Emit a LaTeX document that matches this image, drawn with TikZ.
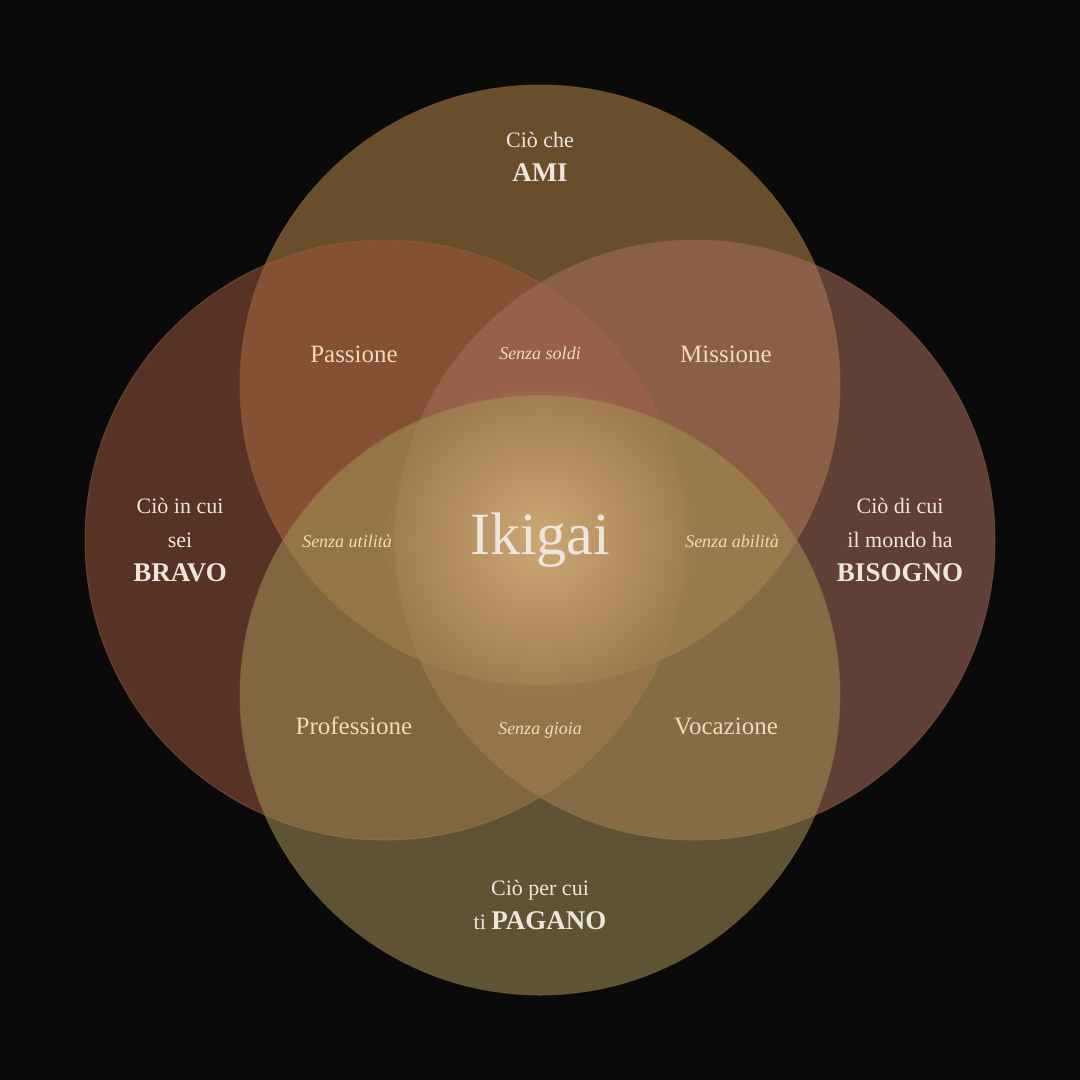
\documentclass[tikz,border=0pt]{standalone}
\usepackage{fontspec}
\setmainfont{Liberation Serif}
\usetikzlibrary{fadings}
\tikzfading[name=glowfade, inner color=transparent!0, outer color=transparent!100]
\definecolor{bg}{RGB}{10,10,10}
\definecolor{ctop}{RGB}{184,135,73}
\definecolor{cleft}{RGB}{155,84,62}
\definecolor{cright}{RGB}{167,109,91}
\definecolor{cbot}{RGB}{164,145,85}
\definecolor{glow}{RGB}{215,175,125}
\definecolor{edge}{RGB}{140,100,65}
\definecolor{lab}{RGB}{240,218,185}
\definecolor{outer}{RGB}{238,230,220}
\begin{document}
\begin{tikzpicture}[x=1pt,y=-1pt,
  circ/.style={fill opacity=0.55,draw=edge,draw opacity=0.5,line width=1pt},
  reg/.style={text=lab,font=\fontsize{25}{28}\selectfont},
  sub/.style={text=lab,font=\itshape\fontsize{18}{20}\selectfont},
  outlab/.style={text=outer,align=center,font=\fontsize{22}{34}\selectfont}]
\fill[bg] (0,0) rectangle (1080,1080);
\useasboundingbox (0,0) rectangle (1080,1080);
\filldraw[circ,fill=ctop] (540,385) circle (300);
\filldraw[circ,fill=cleft] (385,540) circle (300);
\filldraw[circ,fill=cright] (695,540) circle (300);
\filldraw[circ,fill=cbot] (540,695) circle (300);
\fill[glow,path fading=glowfade,opacity=0.85] (540,540) circle (160);
\node[outlab] (ami) at (540,157) {Ciò che\\\textbf{\fontsize{27}{34}\selectfont AMI}};
\node[outlab] (bravo) at (180,540) {Ciò in cui\\sei\\\textbf{\fontsize{27}{34}\selectfont BRAVO}};
\node[outlab] (bisogno) at (900,540) {Ciò di cui\\il mondo ha\\\textbf{\fontsize{27}{34}\selectfont BISOGNO}};
\node[outlab] (pagano) at (540,905) {Ciò per cui\\ti \textbf{\fontsize{27}{34}\selectfont PAGANO}};
\node[reg] (pass) at (354,354) {Passione};
\node[reg] (miss) at (726,354) {Missione};
\node[reg] (prof) at (354,726) {Professione};
\node[reg] (voc) at (726,726) {Vocazione};
\node[sub] (s1) at (540,353) {Senza soldi};
\node[sub] (s2) at (347,541) {Senza utilità};
\node[sub] (s3) at (732,541) {Senza abilità};
\node[sub] (s4) at (540,730) {Senza gioia};
\node[text=outer,font=\fontsize{60}{64}\selectfont] (ik) at (540,540) {Ikigai};
\end{tikzpicture}
\end{document}
